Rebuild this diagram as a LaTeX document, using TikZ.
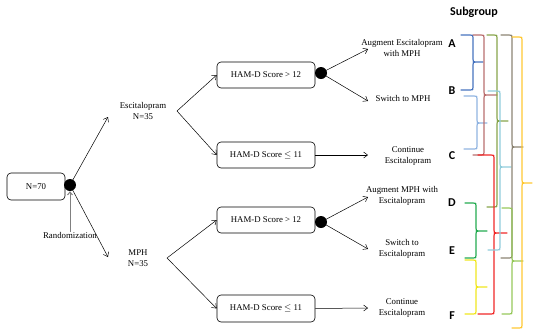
\documentclass[tikz,border=0pt]{standalone}
\usepackage{fontspec}
\setmainfont{Liberation Serif}
\newfontfamily\labelfont{Carlito}
\usetikzlibrary{arrows.meta}

% brace colours
\definecolor{brBlue}{RGB}{70,115,190}
\definecolor{brLightBlue}{RGB}{145,180,225}
\definecolor{brRose}{RGB}{185,110,110}
\definecolor{brOlive}{RGB}{135,165,75}
\definecolor{brTaupe}{RGB}{140,132,115}
\definecolor{brGold}{RGB}{255,200,50}
\definecolor{brRed}{RGB}{240,40,40}
\definecolor{brCyan}{RGB}{145,205,220}
\definecolor{brGreen}{RGB}{35,170,80}
\definecolor{brYellow}{RGB}{240,230,30}
\definecolor{brLightGreen}{RGB}{150,200,90}

% curly brace opening to the left: colour, left end x, spine x, tip x, top y, middle y, bottom y
\newcommand\subbrace[7]{%
  \draw[#1, line width=1.2pt, line join=round, line cap=round]
    (#2,#5) -- (#3-3,#5) .. controls (#3,#5) .. (#3,#5+3)
    -- (#3,#6-3) .. controls (#3,#6) .. (#3+3,#6) -- (#4,#6)
    -- (#3+3,#6) .. controls (#3,#6) .. (#3,#6+3)
    -- (#3,#7-3) .. controls (#3,#7) .. (#3-3,#7) -- (#2,#7);}

\begin{document}
\begin{tikzpicture}[x=1pt,y=-1pt,
  txt/.style={font=\fontsize{8.8}{10.5}\selectfont, align=center, inner sep=0pt},
  scorebox/.style={draw, line width=0.6pt, rounded corners=4pt, minimum width=98pt,
    minimum height=26pt, inner sep=0pt, font=\fontsize{8.8}{10.5}\selectfont},
  hub/.style={circle, fill=black, minimum size=12pt, inner sep=0pt},
  flow/.style={-{Straight Barb[length=4pt,width=6pt]}, line width=0.5pt},
  grp/.style={font=\labelfont\bfseries\fontsize{12}{12}\selectfont, inner sep=0pt},
]
\useasboundingbox (0,0) rectangle (533,330);

% start and randomisation
\node[scorebox, minimum width=58pt, minimum height=27pt] (n70) at (36,186.5) {N=70};
\node[hub] (rdot) at (70,185) {};
\node[txt] (rand) at (70,235) {Randomization};
\draw[gray, line width=1pt, -{Straight Barb[length=3pt,width=5pt]}] (rand.north) -- (rdot.south);

% treatment arms
\node[txt] (esc) at (143,111) {Escitalopram\\N=35};
\node[txt] (mph) at (138,258) {MPH\\N=35};
\coordinate (escSplit) at (177,111);
\coordinate (mphSplit) at (167,258);
\draw[flow] (rdot.center) -- (108,117) coordinate (escTip);
\draw[flow] (rdot.center) -- (108,257) coordinate (mphTip);

% HAM-D boxes
\node[scorebox] (hamA) at (266,75) {HAM-D Score > 12};
\node[scorebox] (hamB) at (266,155) {HAM-D Score $\leq$ 11};
\node[scorebox] (hamC) at (266,220) {HAM-D Score > 12};
\node[scorebox, minimum height=27pt] (hamD) at (266,308.5) {HAM-D Score $\leq$ 11};
\node[hub] (dotA) at (321,73) {};
\node[hub] (dotC) at (321,222) {};

\draw[flow] (escSplit) -- (hamA.west);
\draw[flow] (escSplit) -- (hamB.west);
\draw[flow] (mphSplit) -- (hamC.west);
\draw[flow] (mphSplit) -- (hamD.west);

% outcomes
\node[txt] (augA) at (402,48) {Augment Escitalopram\\with MPH};
\node[txt] (swA) at (403,98) {Switch to MPH};
\node[txt] (contA) at (408,156) {Continue\\Escitalopram};
\node[txt] (augB) at (402,196) {Augment MPH with\\Escitalopram};
\node[txt] (swB) at (402,249) {Switch to\\Escitalopram};
\node[txt] (contB) at (402,308) {Continue\\Escitalopram};

\coordinate (tAugA) at (368,49);
\coordinate (tSwA) at (368,101);
\coordinate (tContA) at (368,155);
\coordinate (tAugB) at (368,197);
\coordinate (tSwB) at (368,249);
\coordinate (tContB) at (368,308);
\draw[flow] (dotA.center) -- (tAugA);
\draw[flow] (dotA.center) -- (tSwA);
\draw[flow] (hamB.east) -- (tContA);
\draw[flow] (dotC.center) -- (tAugB);
\draw[flow] (dotC.center) -- (tSwB);
\draw[flow] (hamD.east) -- (tContB);

% subgroup letters
\node[grp] (sub) at (474,12) {Subgroup};
\node[grp] (gA) at (452,44) {A};
\node[grp] (gB) at (452,91) {B};
\node[grp] (gC) at (452,156) {C};
\node[grp] (gD) at (452,203) {D};
\node[grp] (gE) at (452,251) {E};
\node[grp] (gF) at (452,316) {F};

% subgroup braces
\subbrace{brBlue}{461}{473}{483}{35}{62}{90}
\subbrace{brLightBlue}{464}{477}{487}{96}{123}{149}
\subbrace{brRose}{473}{484}{497}{35}{95}{155}
\subbrace{brGreen}{465}{476}{487}{203}{231}{258}
\subbrace{brYellow}{465}{476}{487}{260}{287}{314}
\subbrace{brOlive}{487}{497}{508}{35}{121}{207}
\subbrace{brRed}{478}{494}{507}{155}{233}{314}
\subbrace{brCyan}{488}{500}{511}{91}{167}{250}
\subbrace{brTaupe}{501}{512}{523}{35}{147}{258}
\subbrace{brLightGreen}{502}{512}{523}{208}{261}{314}
\subbrace{brGold}{512}{522}{532}{37}{183}{328}
\end{tikzpicture}
\end{document}
